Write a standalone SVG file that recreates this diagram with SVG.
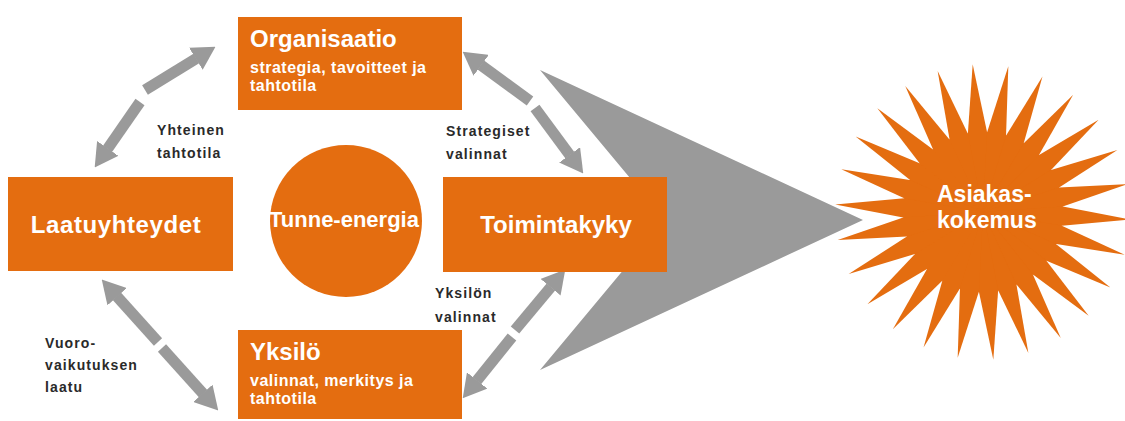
<svg xmlns="http://www.w3.org/2000/svg" xmlns:xlink="http://www.w3.org/1999/xlink" width="1125" height="421" viewBox="0 0 1125 421">
  <style>
    .box { fill: #E46D10; }
    .title { font-family: "Liberation Sans", Arial, sans-serif; font-weight: bold; font-size: 24px; fill: #ffffff; }
    .sub { font-family: "Liberation Sans", Arial, sans-serif; font-weight: bold; font-size: 16px; fill: #ffffff; letter-spacing: 0.5px; }
    .lbl { font-family: "Liberation Sans", Arial, sans-serif; font-weight: bold; font-size: 14px; fill: #2a2a2a; letter-spacing: 1.1px; }
    .arr { stroke: #9a9a9a; stroke-width: 11; fill: none; marker-end: url(#head); }
  </style>
  <defs>
    <marker id="head" markerUnits="userSpaceOnUse" viewBox="0 0 23 26" markerWidth="23" markerHeight="26" refX="0.5" refY="13" orient="auto">
      <path d="M0,0 L23,13 L0,26 Z" fill="#9a9a9a"/>
    </marker>
    <polygon id="spike" points="0,0 79.4,-9.6 148,0 79.4,9.6" fill="#E46D10"/>
  </defs>
  <rect width="1125" height="421" fill="#ffffff"/>

  <!-- big gray chevron -->
  <polygon points="540,70 863,220 540,370 665,220" fill="#9a9a9a"/>

  <g id="connectors">
    <line class="arr" x1="145" y1="90" x2="196.3" y2="58.5"/>
    <line class="arr" x1="140" y1="102" x2="107.5" y2="148.9"/>
    <line class="arr" x1="530" y1="101" x2="480.8" y2="65"/>
    <line class="arr" x1="535" y1="108" x2="569.9" y2="155.3"/>
    <line class="arr" x1="515" y1="330" x2="550.9" y2="286.9"/>
    <line class="arr" x1="512" y1="337" x2="476.8" y2="380.8"/>
    <line class="arr" x1="158" y1="342" x2="116.8" y2="296.3"/>
    <line class="arr" x1="162" y1="348" x2="203.2" y2="393.7"/>
  </g>

  <g id="organisaatio">
    <rect class="box" x="238" y="17" width="224" height="93"/>
    <text class="title" x="250" y="47">Organisaatio</text>
    <text class="sub" x="250" y="73">strategia, tavoitteet ja</text>
    <text class="sub" x="250" y="91">tahtotila</text>
  </g>

  <g id="yksilo">
    <rect class="box" x="238" y="330" width="224" height="89"/>
    <text class="title" x="250" y="360">Yksilö</text>
    <text class="sub" x="250" y="386">valinnat, merkitys ja</text>
    <text class="sub" x="250" y="404">tahtotila</text>
  </g>

  <g id="laatuyhteydet">
    <rect class="box" x="8" y="177" width="225" height="94"/>
    <text class="title" x="116" y="233" text-anchor="middle" style="letter-spacing:0.6px">Laatuyhteydet</text>
  </g>

  <g id="toimintakyky">
    <rect class="box" x="443" y="177" width="224" height="95"/>
    <text class="title" x="556" y="233" text-anchor="middle">Toimintakyky</text>
  </g>

  <g id="tunne-energia">
    <circle class="box" cx="346" cy="221" r="76"/>
    <text class="title" x="344" y="227" text-anchor="middle" style="font-size:22px">Tunne-energia</text>
  </g>

  <g id="asiakaskokemus">
    <g transform="translate(983,212)">
      <circle r="80" fill="#E46D10"/>
      <use xlink:href="#spike" transform="rotate(-94)"/>
      <use xlink:href="#spike" transform="rotate(-80.15)"/>
      <use xlink:href="#spike" transform="rotate(-66.31)"/>
      <use xlink:href="#spike" transform="rotate(-52.46)"/>
      <use xlink:href="#spike" transform="rotate(-38.62)"/>
      <use xlink:href="#spike" transform="rotate(-24.77)"/>
      <use xlink:href="#spike" transform="rotate(-10.92)"/>
      <use xlink:href="#spike" transform="rotate(2.92)"/>
      <use xlink:href="#spike" transform="rotate(16.77)"/>
      <use xlink:href="#spike" transform="rotate(30.62)"/>
      <use xlink:href="#spike" transform="rotate(44.46)"/>
      <use xlink:href="#spike" transform="rotate(58.31)"/>
      <use xlink:href="#spike" transform="rotate(72.15)"/>
      <use xlink:href="#spike" transform="rotate(86)"/>
      <use xlink:href="#spike" transform="rotate(99.85)"/>
      <use xlink:href="#spike" transform="rotate(113.69)"/>
      <use xlink:href="#spike" transform="rotate(127.54)"/>
      <use xlink:href="#spike" transform="rotate(141.38)"/>
      <use xlink:href="#spike" transform="rotate(155.23)"/>
      <use xlink:href="#spike" transform="rotate(169.08)"/>
      <use xlink:href="#spike" transform="rotate(182.92)"/>
      <use xlink:href="#spike" transform="rotate(196.77)"/>
      <use xlink:href="#spike" transform="rotate(210.62)"/>
      <use xlink:href="#spike" transform="rotate(224.46)"/>
      <use xlink:href="#spike" transform="rotate(238.31)"/>
      <use xlink:href="#spike" transform="rotate(252.15)"/>
    </g>
    <text class="title" x="937" y="202" style="font-size:23px">Asiakas-</text>
    <text class="title" x="937" y="228" style="font-size:23px">kokemus</text>
  </g>

  <g id="labels">
    <text class="lbl" x="157" y="135">Yhteinen</text>
    <text class="lbl" x="157" y="158">tahtotila</text>
    <text class="lbl" x="446" y="136">Strategiset</text>
    <text class="lbl" x="446" y="159">valinnat</text>
    <text class="lbl" x="435" y="298">Yksilön</text>
    <text class="lbl" x="435" y="322">valinnat</text>
    <text class="lbl" x="45" y="348">Vuoro-</text>
    <text class="lbl" x="45" y="370">vaikutuksen</text>
    <text class="lbl" x="45" y="392">laatu</text>
  </g>
</svg>
